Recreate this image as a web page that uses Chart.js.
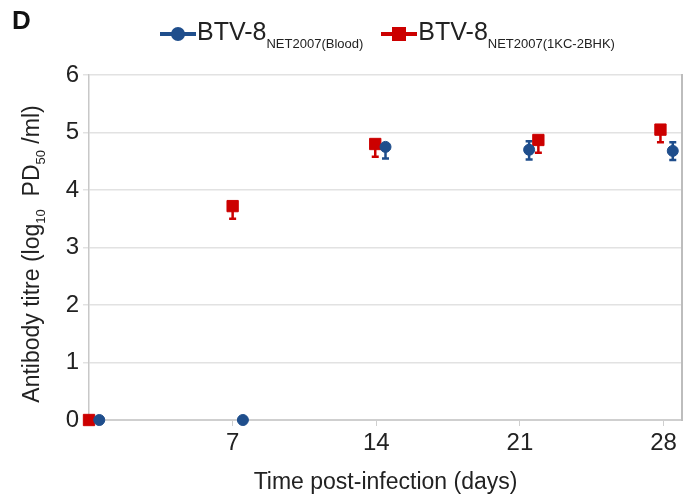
<!DOCTYPE html>
<html>
<head>
<meta charset="utf-8">
<script src="https://cdn.jsdelivr.net/npm/chart.js@4"></script>
<style>
  body { margin: 0; background: #fff; font-family: "Liberation Sans", Arial, sans-serif; }
  #wrap { position: relative; width: 691px; height: 500px; }
  #panel { position: absolute; left: 12px; top: 5px; font-size: 26px; font-weight: bold; color: #111; }
  #legend { position: absolute; left: 160px; top: 17px; display: flex; gap: 18px; color: #222; }
  .item { display: flex; align-items: center; }
  .lab { font-size: 25px; white-space: nowrap; }
  .lab sub { font-size: 13px; vertical-align: -8px; }
  .key { width: 44px; height: 20px; margin-right: -7px; }
</style>
</head>
<body>
<div id="wrap">
  <canvas id="c" width="691" height="500"></canvas>
  <div id="panel">D</div>
  <div id="legend">
    <div class="item"><svg class="key" viewBox="0 0 44 20"><line x1="0" y1="10" x2="36" y2="10" stroke="#1f4e8c" stroke-width="4"/><circle cx="18" cy="10" r="7" fill="#1f4e8c"/></svg><span class="lab">BTV-8<sub>NET2007(Blood)</sub></span></div>
    <div class="item"><svg class="key" viewBox="0 0 44 20"><line x1="0" y1="10" x2="36" y2="10" stroke="#cc0000" stroke-width="4"/><rect x="11" y="3" width="14" height="14" fill="#cc0000"/></svg><span class="lab">BTV-8<sub>NET2007(1KC-2BHK)</sub></span></div>
  </div>
</div>
<script>
// days as plotted (series are slightly offset from each other)
const xTicks = [7, 14, 21, 28];
const bloodDays  = [0.5, 7.5, 14.45, 21.45, 28.45];
const bloodTitre = [0, 0, 4.75, 4.7, 4.68];
const bloodUp    = [0, 0, 0, 0.15, 0.15];
const bloodDown  = [0, 0, 0.2, 0.17, 0.16];
const bhkDays    = [0, 7, 13.95, 21.9, 27.85];
const bhkTitre   = [0, 3.72, 4.8, 4.87, 5.05];
const bhkUp      = [0, 0, 0, 0, 0];
const bhkDown    = [0, 0.22, 0.22, 0.22, 0.22];

const BLUE = '#1f4e8c';
const RED = '#cc0000';
const FONT = '"Liberation Sans", Arial, sans-serif';

const toPts = (xs, ys) => xs.map((x, i) => ({ x: x, y: ys[i] }));

// error bars drawn from the data through the scales
const errorBars = {
    id: 'errorBars',
    beforeDatasetsDraw(chart) {
        const ctx = chart.ctx;
        const xs = chart.scales.x, ys = chart.scales.y;
        chart.data.datasets.forEach(ds => {
            ctx.save();
            ctx.strokeStyle = ds.borderColor;
            ctx.lineWidth = 2.5;
            ds.data.forEach((p, i) => {
                const px = xs.getPixelForValue(p.x);
                const ends = [];
                if (ds.errUp[i] > 0) ends.push(p.y + ds.errUp[i]);
                if (ds.errDown[i] > 0) ends.push(p.y - ds.errDown[i]);
                ends.forEach(v => {
                    const py = ys.getPixelForValue(v);
                    ctx.beginPath();
                    ctx.moveTo(px, ys.getPixelForValue(p.y));
                    ctx.lineTo(px, py);
                    ctx.moveTo(px - 3.5, py);
                    ctx.lineTo(px + 3.5, py);
                    ctx.stroke();
                });
            });
            ctx.restore();
        });
    }
};

// y title with subscripts
const yTitle = {
    id: 'yTitle',
    afterDraw(chart) {
        const ctx = chart.ctx;
        const parts = [
            ['Antibody titre (log', 23, 0],
            ['10', 13, 6],
            ['  PD', 23, 0],
            ['50', 13, 6],
            [' /ml)', 23, 0]
        ];
        ctx.save();
        let total = 0;
        parts.forEach(p => { ctx.font = p[1] + 'px ' + FONT; total += ctx.measureText(p[0]).width; });
        ctx.translate(33, 254);
        ctx.rotate(-Math.PI / 2);
        ctx.fillStyle = '#222';
        ctx.textBaseline = 'middle';
        let x = -total / 2;
        parts.forEach(p => {
            ctx.font = p[1] + 'px ' + FONT;
            ctx.fillText(p[0], x, p[2] + (p[1] < 20 ? 2 : 0));
            x += ctx.measureText(p[0]).width;
        });
        ctx.restore();
    }
};

new Chart(document.getElementById('c'), {
    type: 'scatter',
    data: {
        datasets: [
            {
                label: 'BTV-8 NET2007(Blood)',
                data: toPts(bloodDays, bloodTitre),
                errUp: bloodUp, errDown: bloodDown,
                backgroundColor: BLUE, borderColor: BLUE,
                pointStyle: 'circle', pointRadius: 5.5, clip: false
            },
            {
                label: 'BTV-8 NET2007(1KC-2BHK)',
                data: toPts(bhkDays, bhkTitre),
                errUp: bhkUp, errDown: bhkDown,
                backgroundColor: RED, borderColor: RED,
                pointStyle: 'rect', pointRadius: 8, clip: false
            }
        ]
    },
    options: {
        responsive: false,
        animation: false,
        layout: { padding: { top: 75, left: 0, right: 0, bottom: 0 } },
        plugins: { legend: { display: false }, tooltip: { enabled: false } },
        scales: {
            x: {
                type: 'linear', min: 0, max: 28.9,
                afterBuildTicks: s => { s.ticks = xTicks.map(v => ({ value: v })); },
                afterFit: s => { s.height = 80; },
                ticks: { color: '#222', font: { family: FONT, size: 24 }, padding: 3, maxRotation: 0 },
                grid: { drawOnChartArea: false, tickLength: 6, color: '#cfcfcf' },
                border: { color: '#cfcfcf', width: 2 },
                title: { display: true, text: 'Time post-infection (days)', color: '#222',
                         font: { family: FONT, size: 23 }, padding: { top: 5 } }
            },
            y: {
                min: 0, max: 6,
                afterFit: s => { s.width = 89; },
                ticks: { stepSize: 1, color: '#222', font: { family: FONT, size: 24 }, padding: 4 },
                grid: { color: '#e2e2e2', tickLength: 6, lineWidth: 1.5 },
                border: { color: '#c8c8c8', width: 1.5 }
            },
            y2: {
                position: 'right', min: 0, max: 6,
                afterFit: s => { s.width = 8; },
                ticks: { display: false },
                grid: { display: false },
                border: { color: '#bdbdbd', width: 2 }
            }
        }
    },
    plugins: [errorBars, yTitle]
});
</script>
</body>
</html>
